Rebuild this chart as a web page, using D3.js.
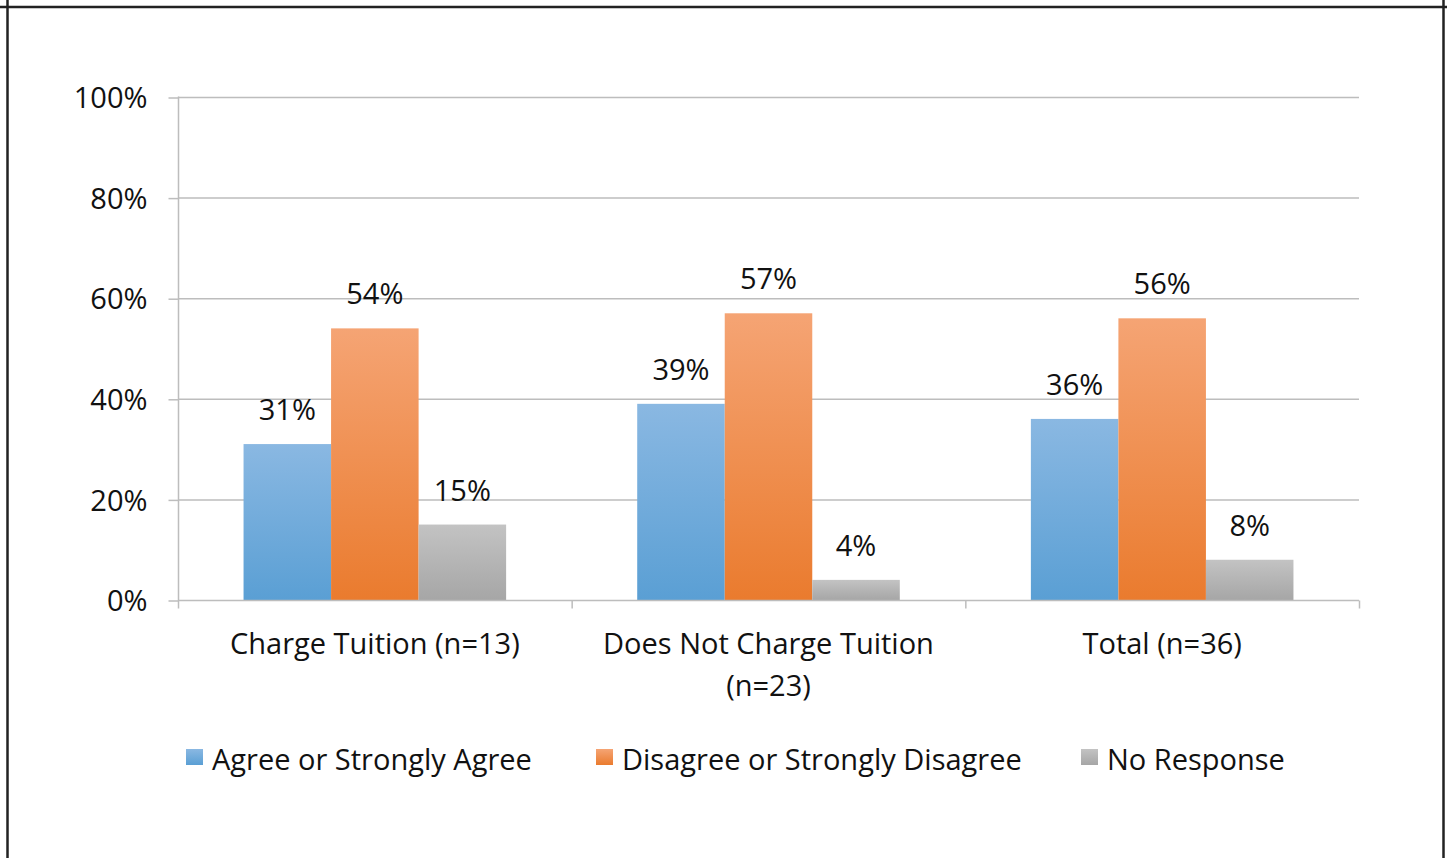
<!DOCTYPE html>
<html><head><meta charset="utf-8">
<script src="https://cdn.jsdelivr.net/npm/d3@7"></script>
<style>body{margin:0;background:#fff;}svg{display:block;}</style>
</head><body>
<svg id="c" width="1447" height="858"></svg>
<script>
const categories = [["Charge Tuition (n=13)"], ["Does Not Charge Tuition", "(n=23)"], ["Total (n=36)"]];
const seriesNames = ["Agree or Strongly Agree", "Disagree or Strongly Disagree", "No Response"];
const agree = [31, 39, 36];
const disagree = [54, 57, 56];
const noResponse = [15, 4, 8];
const yTicks = [0, 20, 40, 60, 80, 100];

const seriesValues = [agree, disagree, noResponse];
const colors = [["#8ab8e2", "#5a9fd4"], ["#f5a474", "#ea7b2e"], ["#c3c3c3", "#a6a6a6"]];
const font = "'Open Sans', Lato, sans-serif";
const fs = 29;

const svg = d3.select("#c");
const defs = svg.append("defs");
colors.forEach((c, i) => {
  const g = defs.append("linearGradient").attr("id", "g" + i).attr("x1", 0).attr("y1", 0).attr("x2", 0).attr("y2", 1);
  g.append("stop").attr("offset", "0%").attr("stop-color", c[0]);
  g.append("stop").attr("offset", "100%").attr("stop-color", c[1]);
});

// frame
svg.append("line").attr("x1", 0).attr("x2", 1447).attr("y1", 7).attr("y2", 7).attr("stroke", "#222").attr("stroke-width", 2.5);
svg.append("line").attr("x1", 7.5).attr("x2", 7.5).attr("y1", 0).attr("y2", 858).attr("stroke", "#222").attr("stroke-width", 2.5);
svg.append("line").attr("x1", 1443.5).attr("x2", 1443.5).attr("y1", 0).attr("y2", 858).attr("stroke", "#222").attr("stroke-width", 2.5);

const x0 = d3.scaleBand().domain(d3.range(categories.length)).range([178, 1359]).paddingInner(0).paddingOuter(0);
const y = d3.scaleLinear().domain([0, 100]).range([600, 97]);
const groupW = x0.bandwidth() * 0.667;
const x1 = d3.scaleBand().domain(d3.range(seriesValues.length)).range([(x0.bandwidth() - groupW) / 2, (x0.bandwidth() + groupW) / 2]);

// grid
svg.append("g").selectAll("line").data(yTicks.filter(t => t > 0)).join("line")
  .attr("x1", 178).attr("x2", 1359).attr("y1", d => y(d) + 0.5).attr("y2", d => y(d) + 0.5)
  .attr("stroke", "#bdbdbd").attr("stroke-width", 1.5);

// y axis
const ya = svg.append("g").attr("transform", "translate(178.5,0.5)")
  .call(d3.axisLeft(y).tickValues(yTicks).tickSize(10).tickPadding(21).tickFormat(d => d + "%"));
ya.select(".domain").attr("stroke", "#bdbdbd").attr("stroke-width", 1.5).attr("d", "M0," + y(0) + "V" + (y(100) - 1));
ya.selectAll(".tick line").attr("stroke", "#bdbdbd").attr("stroke-width", 1.5);
ya.selectAll("text").attr("font-family", font).attr("font-size", fs).attr("fill", "#111").attr("dy", "0.35em");

// bars
const groups = svg.append("g").selectAll("g").data(categories).join("g")
  .attr("transform", (d, i) => `translate(${x0(i)},0)`);
groups.each(function(cat, ci) {
  const g = d3.select(this);
  seriesValues.forEach((vals, si) => {
    const v = vals[ci];
    g.append("rect").attr("x", x1(si)).attr("width", x1.bandwidth()).attr("y", y(v)).attr("height", y(0) - y(v))
      .attr("fill", `url(#g${si})`);
    g.append("text").attr("x", x1(si) + x1.bandwidth() / 2).attr("y", y(v) - 24)
      .attr("text-anchor", "middle").attr("font-family", font).attr("font-size", fs).attr("fill", "#111").text(v + "%");
  });
});

// x axis
const xa = svg.append("g").attr("transform", "translate(0,600.5)");
xa.append("line").attr("x1", 178).attr("x2", 1359).attr("stroke", "#bdbdbd").attr("stroke-width", 1.5);
const bounds = x0.domain().map(i => x0(i)).concat([x0.range()[1]]);
xa.selectAll("line.t").data(bounds).join("line").attr("class", "t")
  .attr("x1", d => d + 0.5).attr("x2", d => d + 0.5).attr("y1", 0).attr("y2", 8).attr("stroke", "#bdbdbd").attr("stroke-width", 1.5);
categories.forEach((lines, i) => {
  const t = xa.append("text").attr("text-anchor", "middle").attr("font-family", font).attr("font-size", fs).attr("fill", "#111");
  lines.forEach((l, k) => t.append("tspan").attr("x", x0(i) + x0.bandwidth() / 2).attr("y", 53 + k * 42).text(l));
});

// legend
const legendX = [186, 596, 1081];
const lg = svg.append("g").selectAll("g").data(seriesNames).join("g").attr("transform", (d, i) => `translate(${legendX[i]},749)`);
lg.append("rect").attr("width", 17).attr("height", 16).attr("fill", (d, i) => `url(#g${i})`);
lg.append("text").attr("x", 26).attr("y", 21).attr("font-family", font).attr("font-size", fs).attr("fill", "#111").text(d => d);
</script>
</body></html>
